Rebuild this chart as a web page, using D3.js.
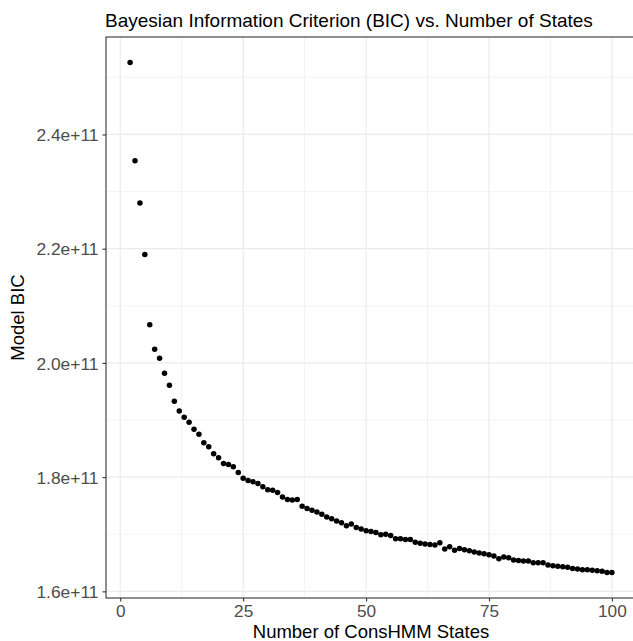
<!DOCTYPE html>
<html>
<head>
<meta charset="utf-8">
<script src="https://cdn.jsdelivr.net/npm/d3@7"></script>
<style>
  html, body { margin: 0; padding: 0; background: #fff; }
  svg { display: block; }
  text { font-family: "Liberation Sans", Arial, Helvetica, sans-serif; }
</style>
</head>
<body>
<script>
// ---- data ----
const states = d3.range(2, 101);
const bicValues = [
  2.526, 2.354, 2.280, 2.190, 2.067, 2.024, 2.008, 1.982, 1.961,
  1.933, 1.916, 1.905, 1.896, 1.884, 1.875, 1.860, 1.853, 1.841, 1.834,
  1.824, 1.822, 1.818, 1.808, 1.798, 1.794, 1.792, 1.789, 1.783, 1.778,
  1.777, 1.773, 1.765, 1.761, 1.760, 1.761, 1.749, 1.745, 1.742, 1.739,
  1.735, 1.730, 1.727, 1.723, 1.720, 1.715, 1.718, 1.712, 1.709, 1.706,
  1.705, 1.703, 1.699, 1.700, 1.698, 1.692, 1.692, 1.691, 1.691, 1.686,
  1.684, 1.683, 1.682, 1.681, 1.685, 1.674, 1.678, 1.672, 1.675, 1.673,
  1.671, 1.669, 1.667, 1.666, 1.664, 1.662, 1.657, 1.660, 1.659, 1.655,
  1.654, 1.653, 1.653, 1.650, 1.650, 1.650, 1.646, 1.645, 1.644, 1.643,
  1.642, 1.640, 1.639, 1.638, 1.638, 1.637, 1.636, 1.635, 1.633, 1.633
].map(v => v * 1e11);
const xTicks = [0, 25, 50, 75, 100];
const xMinor = [12.5, 37.5, 62.5, 87.5];
const yTicks = [1.6e11, 1.8e11, 2.0e11, 2.2e11, 2.4e11];
const yTickLabels = ["1.6e+11", "1.8e+11", "2.0e+11", "2.2e+11", "2.4e+11"];
const yMinor = [1.7e11, 1.9e11, 2.1e11, 2.3e11, 2.5e11];
const titleText = "Bayesian Information Criterion (BIC) vs. Number of States";
const xLabel = "Number of ConsHMM States";
const yLabel = "Model BIC";

const data = states.map((s, i) => ({ x: s, y: bicValues[i] }));

// ---- layout ----
const W = 633, H = 641;
const panel = { left: 106, right: 636, top: 37, bottom: 598 };

function expand(ext, f) { const d = ext[1] - ext[0]; return [ext[0] - d * f, ext[1] + d * f]; }

const x = d3.scaleLinear()
  .domain(expand(d3.extent(states), 0.05))
  .range([panel.left, panel.right]);
const y = d3.scaleLinear()
  .domain(expand(d3.extent(bicValues), 0.05))
  .range([panel.bottom, panel.top]);

const svg = d3.select("body").append("svg")
  .attr("width", W).attr("height", H);

svg.append("rect")
  .attr("x", panel.left).attr("y", panel.top)
  .attr("width", panel.right - panel.left).attr("height", panel.bottom - panel.top)
  .attr("fill", "#fff");

const grid = svg.append("g");
grid.selectAll(".xm").data(xMinor).enter().append("line")
  .attr("x1", d => x(d)).attr("x2", d => x(d))
  .attr("y1", panel.top).attr("y2", panel.bottom)
  .attr("stroke", "#EBEBEB").attr("stroke-width", 0.6);
grid.selectAll(".ym").data(yMinor).enter().append("line")
  .attr("y1", d => y(d)).attr("y2", d => y(d))
  .attr("x1", panel.left).attr("x2", panel.right)
  .attr("stroke", "#EBEBEB").attr("stroke-width", 0.6);
grid.selectAll(".xM").data(xTicks).enter().append("line")
  .attr("x1", d => x(d)).attr("x2", d => x(d))
  .attr("y1", panel.top).attr("y2", panel.bottom)
  .attr("stroke", "#EBEBEB").attr("stroke-width", 1.2);
grid.selectAll(".yM").data(yTicks).enter().append("line")
  .attr("y1", d => y(d)).attr("y2", d => y(d))
  .attr("x1", panel.left).attr("x2", panel.right)
  .attr("stroke", "#EBEBEB").attr("stroke-width", 1.2);

// points
svg.append("g").selectAll("circle").data(data).enter().append("circle")
  .attr("cx", d => x(d.x)).attr("cy", d => y(d.y))
  .attr("r", 2.75).attr("fill", "#000");

// panel border
svg.append("rect")
  .attr("x", panel.left).attr("y", panel.top)
  .attr("width", panel.right - panel.left).attr("height", panel.bottom - panel.top)
  .attr("fill", "none").attr("stroke", "#333333").attr("stroke-width", 1.1);

// axes
const xAxis = d3.axisBottom(x).tickValues(xTicks).tickSize(3.5).tickPadding(3).tickFormat(d3.format("d"));
const gx = svg.append("g").attr("transform", `translate(0,${panel.bottom})`).call(xAxis);
gx.select(".domain").remove();
gx.selectAll(".tick line").attr("stroke", "#333333").attr("stroke-width", 1.1);
gx.selectAll(".tick text").attr("fill", "#4D4D4D").style("font-size", "17.2px")
  .style("font-family", "'Liberation Sans', Arial, Helvetica, sans-serif")
  .attr("dy", "0.72em");

const yAxis = d3.axisLeft(y).tickValues(yTicks).tickSize(3.5).tickPadding(4)
  .tickFormat((d, i) => yTickLabels[i]);
const gy = svg.append("g").attr("transform", `translate(${panel.left},0)`).call(yAxis);
gy.select(".domain").remove();
gy.selectAll(".tick line").attr("stroke", "#333333").attr("stroke-width", 1.1);
gy.selectAll(".tick text").attr("fill", "#4D4D4D").style("font-size", "17.4px")
  .style("font-family", "'Liberation Sans', Arial, Helvetica, sans-serif")
  .attr("dy", "0.36em");

// titles
svg.append("text")
  .attr("x", panel.left - 1).attr("y", 26.5)
  .attr("fill", "#000").style("font-size", "19px")
  .text(titleText);

svg.append("text")
  .attr("x", (panel.left + panel.right) / 2).attr("y", 637.5)
  .attr("text-anchor", "middle")
  .attr("fill", "#000").style("font-size", "18.5px")
  .text(xLabel);

svg.append("text")
  .attr("transform", `translate(24,${(panel.top + panel.bottom) / 2}) rotate(-90)`)
  .attr("text-anchor", "middle")
  .attr("fill", "#000").style("font-size", "18.5px")
  .text(yLabel);
</script>
</body>
</html>
